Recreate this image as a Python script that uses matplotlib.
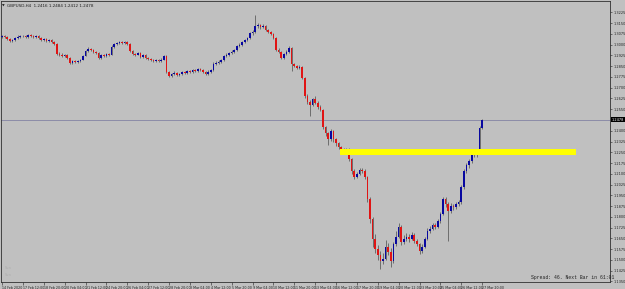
import numpy as np
import matplotlib.pyplot as plt
from matplotlib.patches import Rectangle

# GBPUSD H4 bars, 14 Feb 2020 00:00 .. 27 Mar 2020 20:00
closes = [
    1.3062, 1.3055, 1.3041, 1.3027, 1.3034, 1.3048, 1.3055, 1.3062, 1.3060, 1.3055,
    1.3069, 1.3062, 1.3055, 1.3062, 1.3048, 1.3034, 1.3041, 1.3027, 1.3034, 1.3020,
    1.3006, 1.2937, 1.2930, 1.2923, 1.2930, 1.2909, 1.2875, 1.2888, 1.2882, 1.2888,
    1.2895, 1.2923, 1.2958, 1.2972, 1.2965, 1.2951, 1.2944, 1.2909, 1.2930, 1.2923,
    1.2937, 1.2930, 1.2986, 1.3006, 1.3013, 1.3020, 1.3013, 1.3020, 1.3006, 1.2958,
    1.2937, 1.2930, 1.2944, 1.2916, 1.2930, 1.2909, 1.2902, 1.2895, 1.2888, 1.2895,
    1.2888, 1.2895, 1.2923, 1.2812, 1.2784, 1.2798, 1.2805, 1.2791, 1.2798, 1.2812,
    1.2805, 1.2819, 1.2812, 1.2826, 1.2819, 1.2833, 1.2826, 1.2812, 1.2798, 1.2812,
    1.2826, 1.2868, 1.2875, 1.2882, 1.2895, 1.2923, 1.2930, 1.2944, 1.2951, 1.2965,
    1.2993, 1.3000, 1.3020, 1.3034, 1.3048, 1.3083, 1.3090, 1.3132, 1.3138, 1.3124,
    1.3132, 1.3104, 1.3090, 1.3076, 1.3048, 1.2965, 1.2951, 1.2909, 1.2937, 1.2951,
    1.2979, 1.2868, 1.2854, 1.2840, 1.2847, 1.2770, 1.2645, 1.2604, 1.2583, 1.2618,
    1.2597, 1.2569, 1.2548, 1.2423, 1.2381, 1.2340, 1.2395, 1.2340, 1.2312, 1.2284,
    1.2270, 1.2257, 1.2270, 1.2201, 1.2118, 1.2076, 1.2097, 1.2125, 1.2118, 1.2076,
    1.1923, 1.1784, 1.1646, 1.1576, 1.1534, 1.1493, 1.1507, 1.1590, 1.1555, 1.1493,
    1.1611, 1.1659, 1.1729, 1.1625, 1.1646, 1.1659, 1.1646, 1.1673, 1.1632, 1.1611,
    1.1562, 1.1590, 1.1646, 1.1701, 1.1715, 1.1743, 1.1729, 1.1770, 1.1819, 1.1923,
    1.1888, 1.1840, 1.1875, 1.1868, 1.1888, 1.1902, 1.2007, 1.2118, 1.2159, 1.2187,
    1.2257, 1.2229, 1.2250, 1.2416, 1.2478,
]
highs = [
    1.3070, 1.3071, 1.3060, 1.3048, 1.3042, 1.3055, 1.3066, 1.3071, 1.3070, 1.3068,
    1.3078, 1.3075, 1.3068, 1.3070, 1.3066, 1.3053, 1.3049, 1.3046, 1.3041, 1.3039,
    1.3025, 1.3012, 1.2946, 1.2940, 1.2938, 1.2934, 1.2914, 1.2895, 1.2896, 1.2894,
    1.2902, 1.2930, 1.2966, 1.2981, 1.2980, 1.2970, 1.2958, 1.2949, 1.2936, 1.2938,
    1.2944, 1.2943, 1.2995, 1.3014, 1.3022, 1.3027, 1.3026, 1.3028, 1.3025, 1.3011,
    1.2963, 1.2945, 1.2952, 1.2950, 1.2937, 1.2935, 1.2915, 1.2908, 1.2900, 1.2903,
    1.2901, 1.2904, 1.2931, 1.2928, 1.2820, 1.2806, 1.2814, 1.2811, 1.2806, 1.2820,
    1.2818, 1.2826, 1.2827, 1.2834, 1.2832, 1.2841, 1.2840, 1.2831, 1.2818, 1.2821,
    1.2833, 1.2877, 1.2884, 1.2890, 1.2903, 1.2931, 1.2939, 1.2952, 1.2960, 1.2973,
    1.3001, 1.3010, 1.3028, 1.3042, 1.3057, 1.3092, 1.3101, 1.3208, 1.3155, 1.3148,
    1.3145, 1.3140, 1.3112, 1.3098, 1.3082, 1.3055, 1.2975, 1.2958, 1.2945, 1.2962,
    1.2992, 1.2985, 1.2875, 1.2862, 1.2858, 1.2852, 1.2778, 1.2655, 1.2615, 1.2630,
    1.2640, 1.2605, 1.2578, 1.2555, 1.2435, 1.2392, 1.2410, 1.2405, 1.2352, 1.2325,
    1.2295, 1.2280, 1.2280, 1.2278, 1.2210, 1.2130, 1.2110, 1.2138, 1.2140, 1.2130,
    1.2085, 1.1935, 1.1800, 1.1680, 1.1600, 1.1560, 1.1545, 1.1640, 1.1615, 1.1580,
    1.1625, 1.1700, 1.1760, 1.1745, 1.1670, 1.1690, 1.1680, 1.1695, 1.1685, 1.1645,
    1.1620, 1.1610, 1.1660, 1.1720, 1.1735, 1.1760, 1.1755, 1.1785, 1.1835, 1.1940,
    1.1935, 1.1900, 1.1895, 1.1890, 1.1905, 1.1920, 1.2020, 1.2135, 1.2175, 1.2205,
    1.2275, 1.2265, 1.2262, 1.2430, 1.2484,
]
lows = [
    1.3046, 1.3048, 1.3033, 1.3019, 1.3020, 1.3029, 1.3043, 1.3050, 1.3052, 1.3047,
    1.3050, 1.3056, 1.3049, 1.3050, 1.3042, 1.3026, 1.3028, 1.3020, 1.3021, 1.3013,
    1.2998, 1.2929, 1.2921, 1.2914, 1.2917, 1.2901, 1.2866, 1.2868, 1.2874, 1.2876,
    1.2881, 1.2890, 1.2918, 1.2952, 1.2958, 1.2944, 1.2936, 1.2901, 1.2903, 1.2915,
    1.2917, 1.2922, 1.2925, 1.2980, 1.3000, 1.3007, 1.3006, 1.3008, 1.2999, 1.2950,
    1.2929, 1.2921, 1.2925, 1.2909, 1.2910, 1.2902, 1.2895, 1.2887, 1.2880, 1.2882,
    1.2881, 1.2883, 1.2890, 1.2802, 1.2772, 1.2776, 1.2790, 1.2782, 1.2784, 1.2792,
    1.2797, 1.2799, 1.2804, 1.2806, 1.2811, 1.2813, 1.2818, 1.2804, 1.2788, 1.2792,
    1.2806, 1.2820, 1.2860, 1.2868, 1.2876, 1.2889, 1.2915, 1.2924, 1.2937, 1.2944,
    1.2958, 1.2985, 1.2994, 1.3013, 1.3027, 1.3040, 1.3070, 1.3082, 1.3120, 1.3110,
    1.3115, 1.3095, 1.3080, 1.3066, 1.3038, 1.2955, 1.2940, 1.2898, 1.2900, 1.2930,
    1.2945, 1.2820, 1.2843, 1.2830, 1.2832, 1.2760, 1.2630, 1.2590, 1.2500, 1.2570,
    1.2585, 1.2555, 1.2535, 1.2410, 1.2365, 1.2300, 1.2330, 1.2325, 1.2295, 1.2270,
    1.2255, 1.2245, 1.2248, 1.2190, 1.2100, 1.2060, 1.2068, 1.2088, 1.2105, 1.2060,
    1.1905, 1.1760, 1.1590, 1.1550, 1.1500, 1.1437, 1.1470, 1.1495, 1.1530, 1.1450,
    1.1480, 1.1595, 1.1650, 1.1600, 1.1610, 1.1630, 1.1625, 1.1635, 1.1615, 1.1595,
    1.1540, 1.1550, 1.1580, 1.1635, 1.1690, 1.1705, 1.1715, 1.1720, 1.1760, 1.1810,
    1.1870, 1.1632, 1.1825, 1.1850, 1.1855, 1.1875, 1.1890, 1.1995, 1.2105, 1.2140,
    1.2175, 1.2215, 1.2218, 1.2240, 1.2412,
]
first_open = 1.3055
# H4 FX bars open where the previous bar closed
opens = [first_open] + closes[:-1]

date_labels = ["14 Feb 2020", "17 Feb 12:00", "18 Feb 20:00", "20 Feb 04:00",
               "21 Feb 12:00", "24 Feb 20:00", "26 Feb 04:00", "27 Feb 12:00",
               "28 Feb 20:00", "3 Mar 04:00", "4 Mar 12:00", "5 Mar 20:00",
               "9 Mar 04:00", "10 Mar 12:00", "11 Mar 20:00", "13 Mar 04:00",
               "16 Mar 12:00", "17 Mar 20:00", "19 Mar 04:00", "20 Mar 12:00",
               "23 Mar 20:00", "25 Mar 04:00", "26 Mar 12:00", "27 Mar 20:00"]
price_ticks = [round(1.1350 + 0.0075 * k, 4) for k in range(26)]

# yellow zone drawn on the chart
zone_low, zone_high = 1.2232, 1.2274
zone_start, zone_end = 129.6, 220.0

bg = "#c0c0c0"
o = np.array(opens)
c = np.array(closes)
h = np.array(highs)
l = np.array(lows)
x = np.arange(len(c))
up = c >= o

fig = plt.figure(figsize=(6.25, 2.89), dpi=100, facecolor=bg)
ax = fig.add_axes([1 / 625, 7 / 289, 609 / 625, 281 / 289])
ax.set_facecolor(bg)

ax.vlines(x, l, h, color="#404040", linewidth=0.45, zorder=2)
body_bottom = np.minimum(o, c)
body_height = np.maximum(np.abs(c - o), 0.0003)
ax.bar(x, body_height, bottom=body_bottom, width=0.62,
       color=np.where(up, "#0808a0", "#e01414"), linewidth=0, zorder=3)

ax.add_patch(Rectangle((zone_start, zone_low), zone_end - zone_start,
                       zone_high - zone_low, facecolor="#ffff00",
                       edgecolor="none", zorder=4))

last = closes[-1]
ax.axhline(last, color="#8c8ca8", linewidth=0.7, zorder=1)

ax.set_xlim(-0.4, 233.0)
ax.set_ylim(1.1345, 1.3305)

ax.yaxis.tick_right()
shown = [t for t in price_ticks if abs(t - last) > 0.002]
ax.set_yticks(shown)
ax.set_yticklabels([f"{t:.4f}" for t in shown])
ax.tick_params(axis="y", length=1.5, width=0.4, pad=0.8, labelsize=2.5,
               colors="#202020")
ax.set_xticks(np.arange(0, len(c), 8))
ax.set_xticklabels(date_labels)
ax.tick_params(axis="x", length=2.5, width=0.4, pad=0.2, labelsize=2.3,
               colors="#202020")
for lab in ax.get_xticklabels():
    lab.set_ha("left")

for s in ax.spines.values():
    s.set_color("#303030")
    s.set_linewidth(0.6)

ax.text(1.003, last, f"{last:.4f}", transform=ax.get_yaxis_transform(),
        fontsize=2.5, color="white", va="center", ha="left", clip_on=False,
        zorder=6, bbox=dict(facecolor="black", edgecolor="none", pad=0.6))

fig.text(2 / 625, 1 - 6 / 289, "\u25bc", fontsize=2.5, color="#202020",
         va="center")
fig.text(7 / 625, 1 - 6 / 289,
         f"GBPUSD,H4  {opens[-1]:.4f} {highs[-1]:.4f} {lows[-1]:.4f} {closes[-1]:.4f}",
         fontsize=3, color="#202020", va="center")
fig.text(531 / 625, 1 - 278 / 289, "Spread: 46. Next Bar in 61:01",
         fontsize=3.4, family="Liberation Mono", color="#202020", va="center")
fig.text(5 / 625, 1 - 268 / 289, "Sun", fontsize=2.5, color="#acacac", va="center")
fig.text(5 / 625, 1 - 275 / 289, "Sun", fontsize=2.5, color="#acacac", va="center")

plt.savefig("out.png", dpi=100, facecolor=bg)
